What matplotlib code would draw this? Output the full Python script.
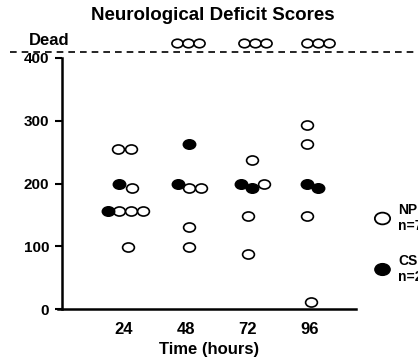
import numpy as np
from matplotlib import pyplot as plt
from matplotlib.path import Path
from matplotlib.transforms import Affine2D
from matplotlib.lines import Line2D

plt.rcParams['font.family'] = ['Liberation Sans', 'DejaVu Sans']
plt.rcParams['font.weight'] = 'bold'

time_ticks = [24, 48, 72, 96]
y_ticks = [0, 100, 200, 300, 400]

# NP group (open circles), x is time plus a small jitter
np_x = [21.9, 26.7, 27.1, 22.1, 26.7, 31.4, 25.6,
        49.2, 53.8, 49.2, 49.2,
        73.6, 78.2, 72.0, 72.0,
        94.9, 94.9, 94.9, 96.4]
np_y = [255, 255, 193, 156, 156, 156, 99,
        193, 193, 131, 99,
        237, 199, 148, 88,
        293, 263, 148, 11]

# CS group (filled circles)
cs_x = [22.1, 17.8, 49.2, 44.9, 69.3, 73.6, 94.9, 99.1]
cs_y = [199, 156, 263, 199, 199, 193, 199, 193]

# NP animals that died (plotted above the "Dead" line)
dead_x = [44.5, 48.8, 53.0, 70.5, 74.7, 78.9, 94.9, 99.1, 103.3]
dead_y = [424] * 9
dead_level = 410

ellipse = Path.unit_circle().transformed(Affine2D().scale(1.3, 1.0))

fig = plt.figure(figsize=(4.18, 3.62), dpi=100)
ax = fig.add_axes([0.148, 0.146, 0.704, 0.694])

ax.plot(np_x, np_y, linestyle='none', marker=ellipse, markersize=8.5,
        markerfacecolor='white', markeredgecolor='black', markeredgewidth=1.2)
ax.plot(cs_x, cs_y, linestyle='none', marker=ellipse, markersize=9,
        markerfacecolor='black', markeredgecolor='black', markeredgewidth=1.0)
ax.plot(dead_x, dead_y, linestyle='none', marker=ellipse, markersize=8,
        markerfacecolor='white', markeredgecolor='black', markeredgewidth=1.2,
        clip_on=False)

ax.set_xlim(0, 114)
ax.set_ylim(0, 400)
ax.set_xticks(time_ticks)
ax.set_yticks(y_ticks)
ax.tick_params(axis='x', length=0, pad=9, labelsize=12)
ax.tick_params(axis='y', length=5, width=1.5, pad=4, labelsize=11)
for s in ['top', 'right']:
    ax.spines[s].set_visible(False)
for s in ['left', 'bottom']:
    ax.spines[s].set_linewidth(1.8)
ax.spines['bottom'].set_bounds(-1.5, 114)

ax.set_xlabel('Time (hours)', fontsize=12, fontweight='bold', labelpad=4)

# dashed "Dead" line across the whole figure
ax.plot([-20, 140], [dead_level, dead_level], linestyle=(0, (4, 3)), color='black',
        linewidth=1.2, clip_on=False)
fig.text(0.069, 0.889, 'Dead', fontsize=12, fontweight='bold', va='center')

fig.suptitle('Neurological Deficit Scores', x=0.51, y=0.98, fontsize=13.5,
             fontweight='bold')

handles = [
    Line2D([], [], linestyle='none', marker=ellipse, markersize=11,
           markerfacecolor='white', markeredgecolor='black', markeredgewidth=1.3),
    Line2D([], [], linestyle='none', marker=ellipse, markersize=11,
           markerfacecolor='black', markeredgecolor='black'),
]
fig.legend(handles, ['NP\nn=7', 'CS\nn=2'], loc='upper left',
           bbox_to_anchor=(0.863, 0.475), frameon=False, fontsize=10,
           labelspacing=1.5, handletextpad=0.6, handlelength=1.2)

fig.savefig('out.png', dpi=100)
